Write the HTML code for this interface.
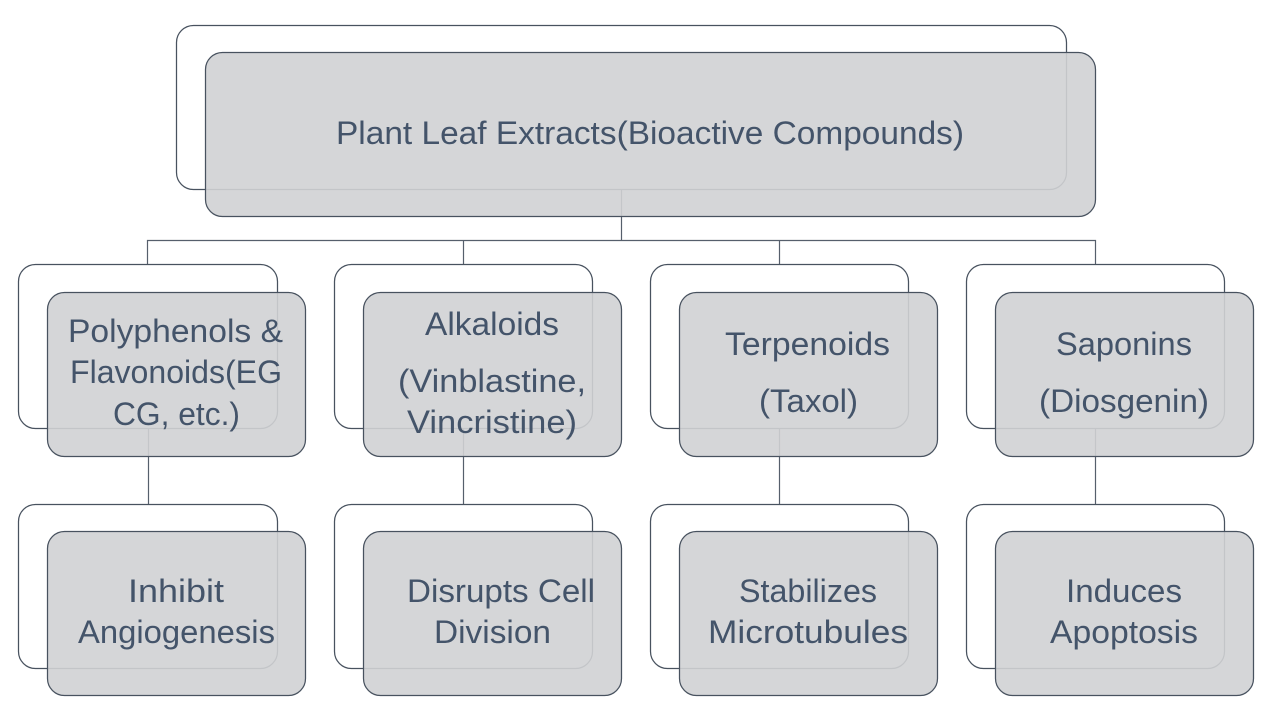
<!DOCTYPE html>
<html lang="en">
<head>
<meta charset="utf-8">
<title>Plant Leaf Extracts</title>
<style>
html,body{margin:0;padding:0;width:1280px;height:720px;background:#fff;overflow:hidden}
svg{display:block}
.b{fill:#fff;fill-opacity:.9;stroke:#48525f;stroke-width:1.25}
.f{fill:#d0d2d4;fill-opacity:.9;stroke:#48525f;stroke-width:1.25}
.c{fill:none;stroke:#565f6c;stroke-width:1.2}
text{font-family:"Liberation Sans",sans-serif;fill:#44546a;font-size:32px}
</style>
</head>
<body>
<svg width="1280" height="720" viewBox="0 0 1280 720" xmlns="http://www.w3.org/2000/svg">
<path class="c" d="M621.5 189V240.5M147.5 265V240.5H1095.5V265M463.5 240.5V265M779.5 240.5V265M148.5 428V505M463.5 428V505M779.5 428V505M1095.5 428V505"/>

<rect class="b" x="176.5" y="25.5" width="890" height="164" rx="17"/>
<rect class="f" x="205.5" y="52.5" width="890" height="164" rx="17"/>

<rect class="b" x="18.5" y="264.5" width="259" height="164" rx="17"/>
<rect class="f" x="47.5" y="292.5" width="258" height="164" rx="17"/>
<rect class="b" x="334.5" y="264.5" width="258" height="164" rx="17"/>
<rect class="f" x="363.5" y="292.5" width="258" height="164" rx="17"/>
<rect class="b" x="650.5" y="264.5" width="258" height="164" rx="17"/>
<rect class="f" x="679.5" y="292.5" width="258" height="164" rx="17"/>
<rect class="b" x="966.5" y="264.5" width="258" height="164" rx="17"/>
<rect class="f" x="995.5" y="292.5" width="258" height="164" rx="17"/>

<rect class="b" x="18.5" y="504.5" width="259" height="164" rx="17"/>
<rect class="f" x="47.5" y="531.5" width="258" height="164" rx="17"/>
<rect class="b" x="334.5" y="504.5" width="258" height="164" rx="17"/>
<rect class="f" x="363.5" y="531.5" width="258" height="164" rx="17"/>
<rect class="b" x="650.5" y="504.5" width="258" height="164" rx="17"/>
<rect class="f" x="679.5" y="531.5" width="258" height="164" rx="17"/>
<rect class="b" x="966.5" y="504.5" width="258" height="164" rx="17"/>
<rect class="f" x="995.5" y="531.5" width="258" height="164" rx="17"/>

<text x="336" y="144" textLength="628" lengthAdjust="spacingAndGlyphs">Plant Leaf Extracts(Bioactive Compounds)</text>

<text x="68" y="342" textLength="215" lengthAdjust="spacingAndGlyphs">Polyphenols &amp;</text>
<text x="70" y="383" textLength="212" lengthAdjust="spacingAndGlyphs">Flavonoids(EG</text>
<text x="113" y="425" textLength="127" lengthAdjust="spacingAndGlyphs">CG, etc.)</text>

<text x="425" y="335" textLength="134" lengthAdjust="spacingAndGlyphs">Alkaloids</text>
<text x="398" y="392" textLength="188" lengthAdjust="spacingAndGlyphs">(Vinblastine,</text>
<text x="407" y="433" textLength="170" lengthAdjust="spacingAndGlyphs">Vincristine)</text>

<text x="725" y="355" textLength="165" lengthAdjust="spacingAndGlyphs">Terpenoids</text>
<text x="759" y="412" textLength="99" lengthAdjust="spacingAndGlyphs">(Taxol)</text>

<text x="1056" y="355" textLength="136" lengthAdjust="spacingAndGlyphs">Saponins</text>
<text x="1039" y="412" textLength="170" lengthAdjust="spacingAndGlyphs">(Diosgenin)</text>

<text x="128" y="602" textLength="96" lengthAdjust="spacingAndGlyphs">Inhibit</text>
<text x="78" y="643" textLength="197" lengthAdjust="spacingAndGlyphs">Angiogenesis</text>

<text x="407" y="602" textLength="188" lengthAdjust="spacingAndGlyphs">Disrupts Cell</text>
<text x="434" y="643" textLength="117" lengthAdjust="spacingAndGlyphs">Division</text>

<text x="739" y="602" textLength="138" lengthAdjust="spacingAndGlyphs">Stabilizes</text>
<text x="708" y="643" textLength="200" lengthAdjust="spacingAndGlyphs">Microtubules</text>

<text x="1066" y="602" textLength="116" lengthAdjust="spacingAndGlyphs">Induces</text>
<text x="1050" y="643" textLength="148" lengthAdjust="spacingAndGlyphs">Apoptosis</text>
</svg>
</body>
</html>
